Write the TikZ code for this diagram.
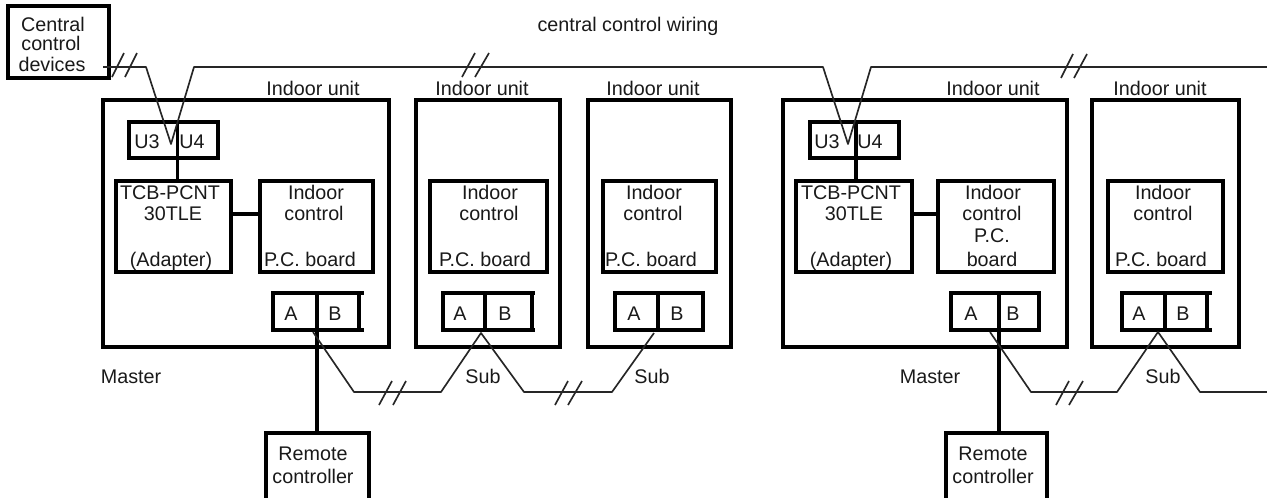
\documentclass[tikz,border=0pt]{standalone}
\usepackage{fontspec}
\setmainfont{Liberation Sans}
\newcommand\bx[6][]{\node[boxn,#1,minimum width={(#5-#3)*0.75pt},minimum height={(#6-#4)*0.75pt}] (#2) at ({(#3+#5)/2},{(#4+#6)/2}) {};}
\newcommand\lb[4]{\node[lbl] (#1) at (#2,#3) {#4};}
\newcommand\slashes[4]{\draw[wire] (#1) -- (#2); \draw[wire] (#3) -- (#4);}
\begin{document}
\begin{tikzpicture}[x=0.75pt,y=-0.75pt,
 boxn/.style={draw=black,line width=2.4pt,inner sep=0pt,outer sep=0pt},
 lbl/.style={anchor=base,inner sep=0pt,outer sep=0pt,text=black!90,font=\fontsize{14.8}{16}\selectfont},
 wire/.style={draw=black!85,line width=1.25pt,line join=round},
 link/.style={draw=black,line width=2.4pt},
 termline/.style={draw=black,line width=2.4pt}]
\useasboundingbox (0,0) rectangle (1267,497);
\clip (0,0) rectangle (1267,497);
% boxes
\bx{central}{8}{6}{109}{78}
\bx{u1}{103}{100}{389}{347}
\bx{u2}{416}{100}{560}{347}
\bx{u3}{588}{100}{731}{347}
\bx{u4}{783}{100}{1067}{347}
\bx{u5}{1092}{100}{1239}{347}
\bx{ut1}{129}{122}{218}{158}
\bx{ut2}{810}{122}{899}{158}
\bx{tcb1}{116}{181}{231}{272}
\bx{tcb2}{796}{181}{912}{272}
\bx{ic1}{260}{181}{373}{272}
\bx{ic2}{430}{181}{547}{272}
\bx{ic3}{603}{181}{716}{272}
\bx{ic4}{938}{181}{1054}{272}
\bx{ic5}{1108}{181}{1223}{272}
\bx{rc1}{266}{433}{369}{510}
\bx{rc2}{946}{433}{1047}{510}
% terminal blocks
\coordinate (ut1m) at (177.5,122); \coordinate (ut1b) at (177.5,181);
\coordinate (ut2m) at (856,122); \coordinate (ut2b) at (856,181);
\draw[termline] (ut1m) -- (ut1b);
\draw[termline] (ut2m) -- (ut2b);
\coordinate (l1) at (231,214); \coordinate (l2) at (260,214);
\coordinate (l3) at (912,214); \coordinate (l4) at (938,214);
\draw[link] (l1) -- (l2);
\draw[link] (l3) -- (l4);
% AB blocks
\bx{ab1}{273}{293}{359}{330}
\bx{ab2}{443}{293}{532}{330}
\bx{ab3}{615}{293}{703}{330}
\bx{ab4}{951}{293}{1039}{330}
\bx{ab5}{1122}{293}{1207}{330}
\coordinate (ab1x) at (364,293); \coordinate (ab1y) at (364,330);
\coordinate (ab2x) at (535,293); \coordinate (ab2y) at (535,330);
\coordinate (ab5x) at (1212,293); \coordinate (ab5y) at (1212,330);
\draw[termline] (ab1.north east) -- (ab1x);
\draw[termline] (ab1.south east) -- (ab1y);
\draw[termline] (ab2.north east) -- (ab2x);
\draw[termline] (ab2.south east) -- (ab2y);
\draw[termline] (ab5.north east) -- (ab5x);
\draw[termline] (ab5.south east) -- (ab5y);
\draw[termline] (317,293) -- (317,433);
\draw[termline] (485,293) -- (485,330);
\draw[termline] (658,293) -- (658,330);
\draw[termline] (999,293) -- (999,433);
\draw[termline] (1165,293) -- (1165,330);
% wires
\draw[wire] (103,67) -- (146,67) -- (171,144) -- (194,67) -- (823,67) -- (848,144) -- (871,67) -- (1267,67);
\draw[wire] (313,332) -- (354,392) -- (441,392) -- (481,333) -- (524,392) -- (612,392) -- (654,333);
\draw[wire] (990,332) -- (1031,392) -- (1117,392) -- (1158,332) -- (1200,392) -- (1267,392);
\slashes{112,77}{124,53}{125,77}{137,53}
\slashes{462,77}{475,53}{475,77}{489,53}
\slashes{1061,78}{1073,54}{1074,78}{1087,54}
\slashes{379,405}{392,381}{393,405}{406,381}
\slashes{555,405}{568,381}{568,405}{582,381}
\slashes{1056,405}{1069,381}{1069,405}{1083,381}
% labels
\lb{t1}{53}{31}{Central}\lb{t2}{51}{50}{control}\lb{t3}{52}{71}{devices}
\lb{t4}{628}{31}{central control wiring}
\lb{t5}{313}{95}{Indoor unit}\lb{t6}{482}{95}{Indoor unit}\lb{t7}{653}{95}{Indoor unit}\lb{t8}{993}{95}{Indoor unit}\lb{t9}{1160}{95}{Indoor unit}
\lb{t10}{147}{148}{U3}\lb{t11}{192}{148}{U4}\lb{t12}{827}{148}{U3}\lb{t13}{870}{148}{U4}
\lb{t14}{170}{199}{TCB-PCNT}\lb{t15}{173}{220}{30TLE}\lb{t16}{171}{266}{(Adapter)}
\lb{t17}{851}{199}{TCB-PCNT}\lb{t18}{854}{220}{30TLE}\lb{t19}{851}{266}{(Adapter)}
\lb{t20}{316}{199}{Indoor}\lb{t21}{314}{220}{control}\lb{t22}{310}{266}{P.C. board}
\lb{t23}{490}{199}{Indoor}\lb{t24}{489}{220}{control}\lb{t25}{485}{266}{P.C. board}
\lb{t26}{654}{199}{Indoor}\lb{t27}{653}{220}{control}\lb{t28}{651}{266}{P.C. board}
\lb{t29}{993}{199}{Indoor}\lb{t30}{992}{220}{control}\lb{t31}{992}{242}{P.C.}\lb{t32}{992}{266}{board}
\lb{t33}{1163}{199}{Indoor}\lb{t34}{1163}{220}{control}\lb{t35}{1161}{266}{P.C. board}
\lb{t36}{291}{320}{A}\lb{t37}{335}{320}{B}\lb{t38}{460}{320}{A}\lb{t39}{505}{320}{B}
\lb{t40}{634}{320}{A}\lb{t41}{677}{320}{B}\lb{t42}{971}{320}{A}\lb{t43}{1013}{320}{B}
\lb{t44}{1139}{320}{A}\lb{t45}{1183}{320}{B}
\lb{t46}{131}{383}{Master}\lb{t47}{930}{383}{Master}
\lb{t48}{483}{383}{Sub}\lb{t49}{652}{383}{Sub}\lb{t50}{1163}{383}{Sub}
\lb{t51}{313}{460}{Remote}\lb{t52}{313}{483}{controller}
\lb{t53}{993}{460}{Remote}\lb{t54}{993}{483}{controller}
\end{tikzpicture}
\end{document}
